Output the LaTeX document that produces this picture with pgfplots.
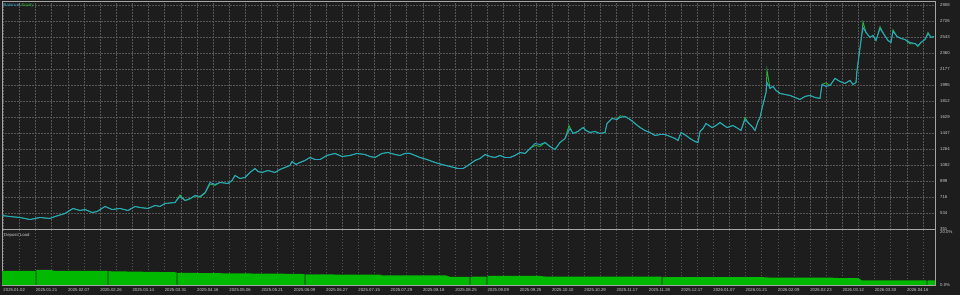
\documentclass[border=0pt]{standalone}
\usepackage{pgfplots}
\pgfplotsset{compat=1.18}
\usepackage{fontspec}
\setmainfont{Liberation Sans}
\definecolor{bg}{RGB}{29,29,29}
\definecolor{gridc}{RGB}{85,85,85}
\definecolor{framec}{RGB}{165,165,165}
\definecolor{labc}{RGB}{205,205,205}
\definecolor{balc}{RGB}{40,165,205}
\definecolor{eqc}{RGB}{40,180,60}
\definecolor{loadc}{RGB}{0,185,0}
\newcommand{\tf}{\fontsize{4.3}{5}\selectfont}
\begin{document}
\begin{tikzpicture}
\fill[bg] (0,0) rectangle (960bp,295bp);
\path[use as bounding box] (0,0) rectangle (960bp,295bp);
\begin{axis}[at={(2bp,65.5bp)}, anchor=south west, width=933bp, height=228.5bp, scale only axis,
  xmin=2, xmax=935, ymin=351, ymax=2959,
  axis line style={framec, line width=0.7bp},
  xtick={3.3,35.57,67.84,100.11,132.38,164.65,196.92,229.19,261.46,293.73,326.0,358.27,390.54,422.81,455.08,487.35,519.62,551.89,584.16,616.43,648.7,680.97,713.24,745.51,777.78,810.05,842.32,874.59,906.86},
  minor xtick={19.435,51.705,83.975,116.245,148.515,180.785,213.055,245.325,277.595,309.865,342.135,374.405,406.675,438.945,471.215,503.485,535.755,568.025,600.295,632.565,664.835,697.105,729.375,761.645,793.915,826.185,858.455,890.725,922.995},
  xticklabel=\empty,
  xmajorgrids, xminorgrids, ymajorgrids,
  major grid style={gridc, dash pattern=on 1.5bp off 1.5bp, line width=0.5bp},
  minor grid style={gridc, dash pattern=on 1.5bp off 1.5bp, line width=0.5bp},
  major tick length=0, minor tick length=0,
  ytick={351,533.64,716.29,898.93,1081.57,1264.21,1446.86,1629.5,1812.14,1994.79,2177.43,2360.07,2542.71,2725.36,2908},
  yticklabels={351,534,716,899,1082,1264,1447,1629,1812,1995,2177,2360,2543,2726,2908},
  yticklabel pos=right,
  yticklabel style={font=\tf, text=labc, anchor=west, inner sep=0pt, xshift=5bp},
]
\addplot[eqc, line width=0.9bp] coordinates {
(2,511)(10,499)(20,488)(30,465)(40,488)(50,477)(55,499)(65,534)(73,591)(80,568)(85,579)(92,545)(97,556)(105,614)(112,579)(120,591)(128,568)(135,614)(140,602)(148,591)(155,625)(160,614)(165,648)(175,659)(180,745)(185,682)(188,690)(190,700)(195,735)(200,720)(205,765)(210,870)(215,855)(220,888)(228,876)(232,910)(235,967)(240,933)(245,945)(250,1002)(255,1047)(258,1013)(262,1002)(268,1024)(275,1002)(280,1036)(285,1059)(290,1082)(292,1127)(296,1093)(300,1116)(305,1139)(310,1173)(315,1150)(320,1150)(327,1196)(335,1219)(342,1184)(350,1196)(357,1219)(365,1207)(370,1184)(375,1173)(382,1219)(388,1230)(395,1207)(400,1196)(405,1219)(410,1219)(415,1196)(420,1173)(427,1150)(435,1116)(442,1093)(450,1070)(458,1047)(463,1047)(468,1082)(475,1139)(480,1161)(485,1207)(490,1184)(495,1173)(500,1196)(505,1173)(510,1173)(515,1196)(520,1230)(525,1219)(530,1276)(535,1310)(540,1300)(545,1344)(550,1298)(555,1264)(560,1344)(565,1390)(569,1535)(573,1447)(578,1470)(583,1515)(586,1481)(590,1458)(595,1470)(600,1447)(605,1458)(607,1561)(612,1618)(617,1607)(620,1648)(625,1641)(630,1607)(635,1561)(640,1515)(645,1481)(650,1458)(655,1424)(660,1435)(665,1435)(670,1413)(675,1390)(678,1367)(681,1458)(686,1424)(690,1390)(695,1356)(698,1344)(700,1470)(703,1504)(706,1561)(712,1515)(716,1538)(720,1572)(724,1538)(727,1515)(733,1538)(738,1504)(741,1481)(745,1630)(748,1572)(752,1527)(755,1481)(758,1584)(760,1629)(762,1732)(764,1824)(766,1915)(767,2170)(770,1961)(773,1984)(776,1938)(780,1904)(785,1892)(790,1881)(795,1858)(800,1835)(805,1870)(810,1881)(815,1858)(820,1847)(822,2006)(826,2025)(830,1995)(835,2075)(840,2040)(845,2018)(850,2052)(853,2006)(856,2029)(857,2166)(859,2337)(861,2508)(863,2720)(866,2600)(870,2543)(873,2566)(876,2508)(880,2665)(884,2577)(888,2508)(891,2486)(893,2630)(897,2554)(901,2531)(905,2520)(910,2470)(915,2474)(918,2440)(921,2486)(925,2520)(928,2600)(931,2543)(934,2554)
};
\addplot[balc, line width=0.9bp] coordinates {
(2,511)(10,499)(20,488)(30,465)(40,488)(50,477)(55,499)(65,534)(73,591)(80,568)(85,579)(92,545)(97,556)(105,614)(112,579)(120,591)(128,568)(135,614)(140,602)(148,591)(155,625)(160,614)(165,648)(175,659)(180,728)(185,682)(190,705)(195,739)(200,728)(205,773)(210,888)(215,865)(220,888)(228,876)(232,910)(235,967)(240,933)(245,945)(250,1002)(255,1047)(258,1013)(262,1002)(268,1024)(275,1002)(280,1036)(285,1059)(290,1082)(292,1127)(296,1093)(300,1116)(305,1139)(310,1173)(315,1150)(320,1150)(327,1196)(335,1219)(342,1184)(350,1196)(357,1219)(365,1207)(370,1184)(375,1173)(382,1219)(388,1230)(395,1207)(400,1196)(405,1219)(410,1219)(415,1196)(420,1173)(427,1150)(435,1116)(442,1093)(450,1070)(458,1047)(463,1047)(468,1082)(475,1139)(480,1161)(485,1207)(490,1184)(495,1173)(500,1196)(505,1173)(510,1173)(515,1196)(520,1230)(525,1219)(530,1276)(535,1333)(540,1321)(545,1344)(550,1298)(555,1264)(560,1344)(565,1390)(570,1504)(573,1447)(578,1470)(583,1515)(586,1481)(590,1458)(595,1470)(600,1447)(605,1458)(607,1561)(612,1618)(617,1607)(620,1629)(625,1641)(630,1607)(635,1561)(640,1515)(645,1481)(650,1458)(655,1424)(660,1435)(665,1435)(670,1413)(675,1390)(678,1367)(681,1458)(686,1424)(690,1390)(695,1356)(698,1344)(700,1470)(703,1504)(706,1561)(712,1515)(716,1538)(720,1572)(724,1538)(727,1515)(733,1538)(738,1504)(741,1481)(745,1607)(748,1572)(752,1527)(755,1481)(758,1584)(760,1629)(762,1732)(764,1824)(766,1915)(767,2029)(770,1961)(773,1984)(776,1938)(780,1904)(785,1892)(790,1881)(795,1858)(800,1835)(805,1870)(810,1881)(815,1858)(820,1847)(822,2006)(826,1984)(830,1995)(835,2075)(840,2040)(845,2018)(850,2052)(853,2006)(856,2029)(857,2166)(859,2337)(861,2508)(863,2657)(866,2600)(870,2543)(873,2566)(876,2508)(880,2645)(884,2577)(888,2508)(891,2486)(893,2611)(897,2554)(901,2531)(905,2520)(910,2486)(915,2474)(918,2451)(921,2486)(925,2520)(928,2588)(931,2543)(934,2554)
};
\node[anchor=north west, inner sep=0pt, font=\tf] at (rel axis cs:0,1) [xshift=1.5bp, yshift=-2.5bp] {\textcolor{balc}{Balance}\textcolor{labc}{ / }\textcolor{eqc}{Equity}};
\end{axis}
\begin{axis}[at={(2bp,10bp)}, anchor=south west, width=933bp, height=55.5bp, scale only axis,
  xmin=2, xmax=935, ymin=0, ymax=20.94,
  axis line style={framec, line width=0.7bp},
  xtick={3.3,35.57,67.84,100.11,132.38,164.65,196.92,229.19,261.46,293.73,326.0,358.27,390.54,422.81,455.08,487.35,519.62,551.89,584.16,616.43,648.7,680.97,713.24,745.51,777.78,810.05,842.32,874.59,906.86},
  minor xtick={19.435,51.705,83.975,116.245,148.515,180.785,213.055,245.325,277.595,309.865,342.135,374.405,406.675,438.945,471.215,503.485,535.755,568.025,600.295,632.565,664.835,697.105,729.375,761.645,793.915,826.185,858.455,890.725,922.995},
  xticklabels={2025.01.02,2025.01.21,2025.02.07,2025.02.26,2025.03.14,2025.03.31,2025.04.16,2025.05.06,2025.05.21,2025.06.09,2025.06.27,2025.07.15,2025.07.29,2025.08.18,2025.08.25,2025.09.09,2025.09.25,2025.10.10,2025.10.29,2025.11.17,2025.11.28,2025.12.17,2026.01.07,2026.01.21,2026.02.09,2026.02.23,2026.03.12,2026.03.30,2026.04.16},
  xticklabel style={font=\tf, text=labc, anchor=north west, inner sep=0pt, yshift=-3bp},
  xmajorgrids, xminorgrids,
  major grid style={gridc, dash pattern=on 1.5bp off 1.5bp, line width=0.5bp},
  minor grid style={gridc, dash pattern=on 1.5bp off 1.5bp, line width=0.5bp},
  major tick length=0, minor tick length=0,
  ytick={0,20}, yticklabels={0.0\%,20.0\%},
  yticklabel pos=right,
  yticklabel style={font=\tf, text=labc, anchor=west, inner sep=0pt, xshift=5bp},
]
\addplot[fill=loadc, draw=none] coordinates {
(2,5.3)(35.5,5.3)(35.6,0)(36.4,0)(36.5,5.7)(50,5.7)(55,5.3)(107.5,5.3)(107.6,0)(108.4,0)(108.5,5.2)(160,4.9)(176.5,4.8)(176.6,0)(177.4,0)(177.5,4.6)(230,4.4)(300,4.2)(304.5,4.1)(304.6,0)(305.4,0)(305.5,4.0)(380,3.9)(382,3.6)(446,3.6)(450,3.1)(469.5,3.1)(469.6,0)(470.4,0)(470.5,3.1)(486.5,3.2)(486.6,0)(487.4,0)(487.5,3.4)(540,3.4)(545,3.2)(661.5,3.2)(661.6,0)(662.4,0)(662.5,3.0)(760,3.0)(770,2.8)(830,2.8)(840,2.6)(858,2.6)(862,1.7)(926.5,1.7)(926.6,0)(927.4,0)(927.5,1.7)(935,1.7)
} \closedcycle;
\node[anchor=north west, inner sep=0pt, font=\tf, text=labc] at (rel axis cs:0,1) [xshift=2bp, yshift=-3.5bp] {Deposit Load};
\end{axis}
\end{tikzpicture}
\end{document}
